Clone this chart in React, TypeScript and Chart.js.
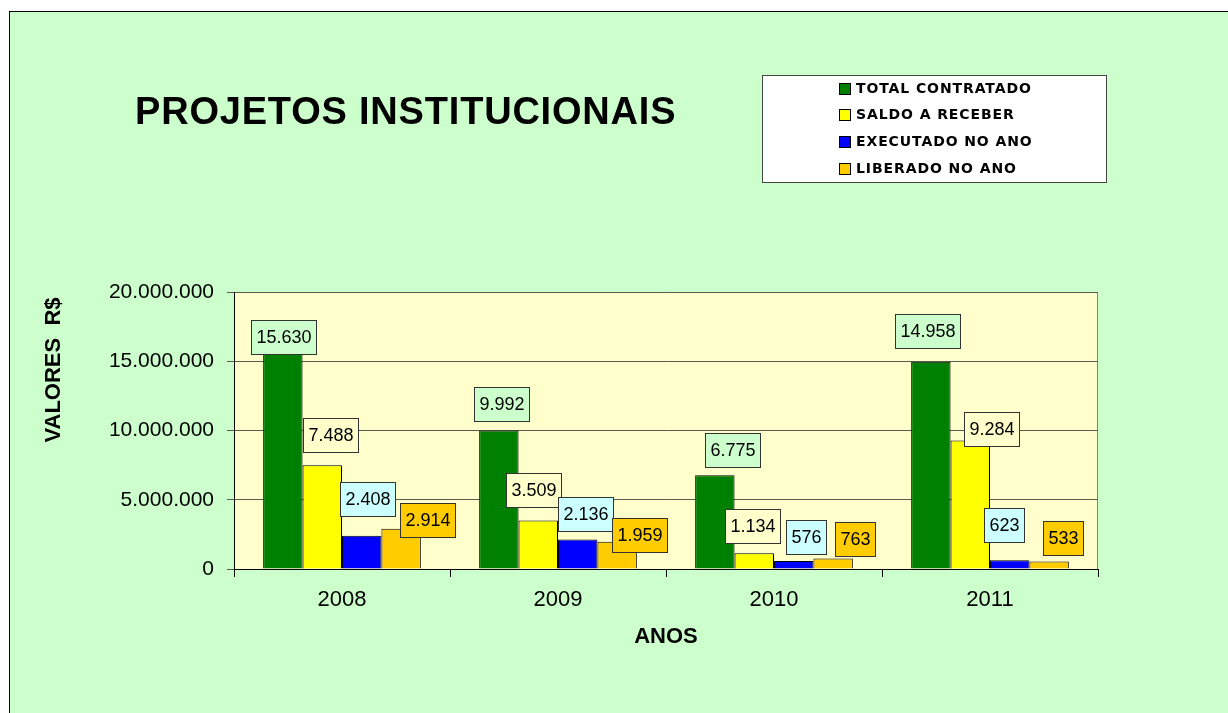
import React, { useEffect, useRef } from "react";
import { Chart, registerables } from "chart.js";

Chart.register(...registerables);

// ---- data ----
const categories = ["2008", "2009", "2010", "2011"];
const seriesNames = ["TOTAL CONTRATADO", "SALDO A RECEBER", "EXECUTADO NO ANO", "LIBERADO NO ANO"];
const totalContratado = [15630000, 9992000, 6775000, 14958000];
const saldoAReceber = [7488000, 3509000, 1134000, 9284000];
const executadoNoAno = [2408000, 2136000, 576000, 623000];
const liberadoNoAno = [2914000, 1959000, 763000, 533000];
const yMin = 0;
const yMax = 20000000;
const yStep = 5000000;
const chartTitle = "PROJETOS INSTITUCIONAIS";
const yTitle = "VALORES  R$";
const xTitle = "ANOS";

// ---- styles ----
const barColors = ["#008000", "#FFFF00", "#0000FF", "#FFCC00"];
const labelBg = ["#CCFFCC", "#FFFFCC", "#CCFFFF", "#FFCC00"];
// label nudges relative to each bar's top-centre (px): [dx, gap above bar top]
const labelNudge = [
  [[1, -1], [3, 10], [18, 8], [-3, 14]],
  [[8, 13], [-5, 13], [-2, 10], [21, -6]],
  [[6, 20], [8, 8], [12, 7], [-6, 18]],
  [[26, -8], [22, -10], [22, 2], [14, 7]],
];

const W = 1228;
const H = 713;
const SANS = '"Liberation Sans", Arial, Helvetica, sans-serif';

function dots(n: number): string {
  return String(Math.round(n)).replace(/\B(?=(\d{3})+(?!\d))/g, ".");
}

const decorPlugin = {
  id: "decor",
  beforeDraw(chart: any) {
    const ctx = chart.ctx;
    const a = chart.chartArea;
    ctx.save();
    ctx.fillStyle = "#ffffff";
    ctx.fillRect(0, 0, W, H);
    ctx.fillStyle = "#CCFFCC";
    ctx.fillRect(9, 11, W, H);
    ctx.strokeStyle = "#000";
    ctx.lineWidth = 1;
    ctx.strokeRect(9.5, 11.5, W + 20, H + 20);
    ctx.fillStyle = "#FFFFCC";
    ctx.fillRect(a.left, a.top, a.right - a.left, a.bottom - a.top);
    ctx.strokeStyle = "#808080";
    ctx.strokeRect(a.left + 0.5, a.top + 0.5, a.right - a.left - 1, a.bottom - a.top);
    ctx.restore();
  },
  afterDatasetsDraw(chart: any) {
    const ctx = chart.ctx;
    ctx.save();
    ctx.font = `18px ${SANS}`;
    ctx.textAlign = "center";
    ctx.textBaseline = "middle";
    chart.data.datasets.forEach((ds: any, di: number) => {
      const meta = chart.getDatasetMeta(di);
      meta.data.forEach((el: any, i: number) => {
        const txt = dots(ds.data[i] / 1000);
        const tw = ctx.measureText(txt).width;
        const bw = Math.round(tw + 10);
        const bh = 34;
        const [dx, gap] = labelNudge[di][i];
        const cx = el.x + dx;
        const bottom = el.y - gap;
        const x0 = Math.round(cx - bw / 2) + 0.5;
        const y0 = Math.round(bottom - bh) + 0.5;
        ctx.fillStyle = labelBg[di];
        ctx.fillRect(x0, y0, bw, bh);
        ctx.strokeStyle = "#333";
        ctx.lineWidth = 1;
        ctx.strokeRect(x0, y0, bw, bh);
        ctx.fillStyle = "#000";
        ctx.fillText(txt, x0 + bw / 2, y0 + bh / 2 + 1);
      });
    });
    ctx.restore();
  },
  afterDraw(chart: any) {
    const ctx = chart.ctx;
    const a = chart.chartArea;
    ctx.save();
    // title
    ctx.fillStyle = "#000";
    ctx.font = `bold 38px ${SANS}`;
    (ctx as any).letterSpacing = "0.8px";
    ctx.textAlign = "left";
    ctx.textBaseline = "alphabetic";
    ctx.fillText(chartTitle, 135, 124);
    (ctx as any).letterSpacing = "0px";

    // legend
    ctx.fillStyle = "#ffffff";
    ctx.fillRect(762, 75, 345, 108);
    ctx.strokeStyle = "#444";
    ctx.lineWidth = 1;
    ctx.strokeRect(762.5, 75.5, 344, 107);
    ctx.font = `bold 14px "DejaVu Sans", ${SANS}`;
    (ctx as any).letterSpacing = "0.9px";
    ctx.textBaseline = "middle";
    seriesNames.forEach((name, i) => {
      const cy = 88 + i * 26.7;
      ctx.fillStyle = barColors[i];
      ctx.fillRect(839.5, Math.round(cy - 5.5) + 0.5, 11, 11);
      ctx.strokeStyle = "#000";
      ctx.strokeRect(839.5, Math.round(cy - 5.5) + 0.5, 11, 11);
      ctx.fillStyle = "#000";
      ctx.fillText(name, 856, cy + 1);
    });
    (ctx as any).letterSpacing = "0px";

    // axis titles
    ctx.font = `bold 22px ${SANS}`;
    ctx.textAlign = "center";
    ctx.textBaseline = "middle";
    ctx.fillText(xTitle, (a.left + a.right) / 2, 637);
    ctx.translate(54, 370);
    ctx.rotate(-Math.PI / 2);
    ctx.fillText(yTitle, 0, 0);
    ctx.restore();
  },
};

export default function App() {
  const ref = useRef<HTMLCanvasElement | null>(null);
  useEffect(() => {
    document.body.style.margin = "0";
    const canvas = ref.current;
    if (!canvas) return;
    const series = [totalContratado, saldoAReceber, executadoNoAno, liberadoNoAno];
    const chart = new Chart(canvas, {
      type: "bar",
      data: {
        labels: categories,
        datasets: series.map((d, i) => ({
          label: seriesNames[i],
          data: d,
          backgroundColor: barColors[i],
          borderColor: "#000",
          borderWidth: 1,
          borderSkipped: "bottom",
          categoryPercentage: 0.73,
          barPercentage: 1,
        })),
      },
      options: {
        responsive: false,
        animation: false,
        devicePixelRatio: 1,
        layout: { padding: { top: 292, left: 0, right: 130, bottom: 64 } },
        plugins: { legend: { display: false }, title: { display: false }, tooltip: { enabled: false } },
        scales: {
          x: {
            afterFit: (s: any) => { s.height = 80; },
            grid: { drawOnChartArea: false, offset: true, tickLength: 8, color: "#000" },
            border: { color: "#000", width: 1 },
            ticks: { font: { family: SANS, size: 22 }, color: "#000", padding: 10 },
          },
          y: {
            min: yMin,
            max: yMax,
            afterFit: (s: any) => { s.width = 234; },
            grid: { color: "#5a5a50", tickLength: 7 },
            border: { color: "#000", width: 1 },
            ticks: {
              stepSize: yStep,
              font: { family: SANS, size: 21 },
              color: "#000",
              padding: 13,
              callback: (v: any) => dots(Number(v)),
            },
          },
        },
      },
      plugins: [decorPlugin],
    });
    return () => chart.destroy();
  }, []);
  return (
    <div style={{ width: W, height: H }}>
      <canvas ref={ref} width={W} height={H} style={{ display: "block" }} />
    </div>
  );
}
